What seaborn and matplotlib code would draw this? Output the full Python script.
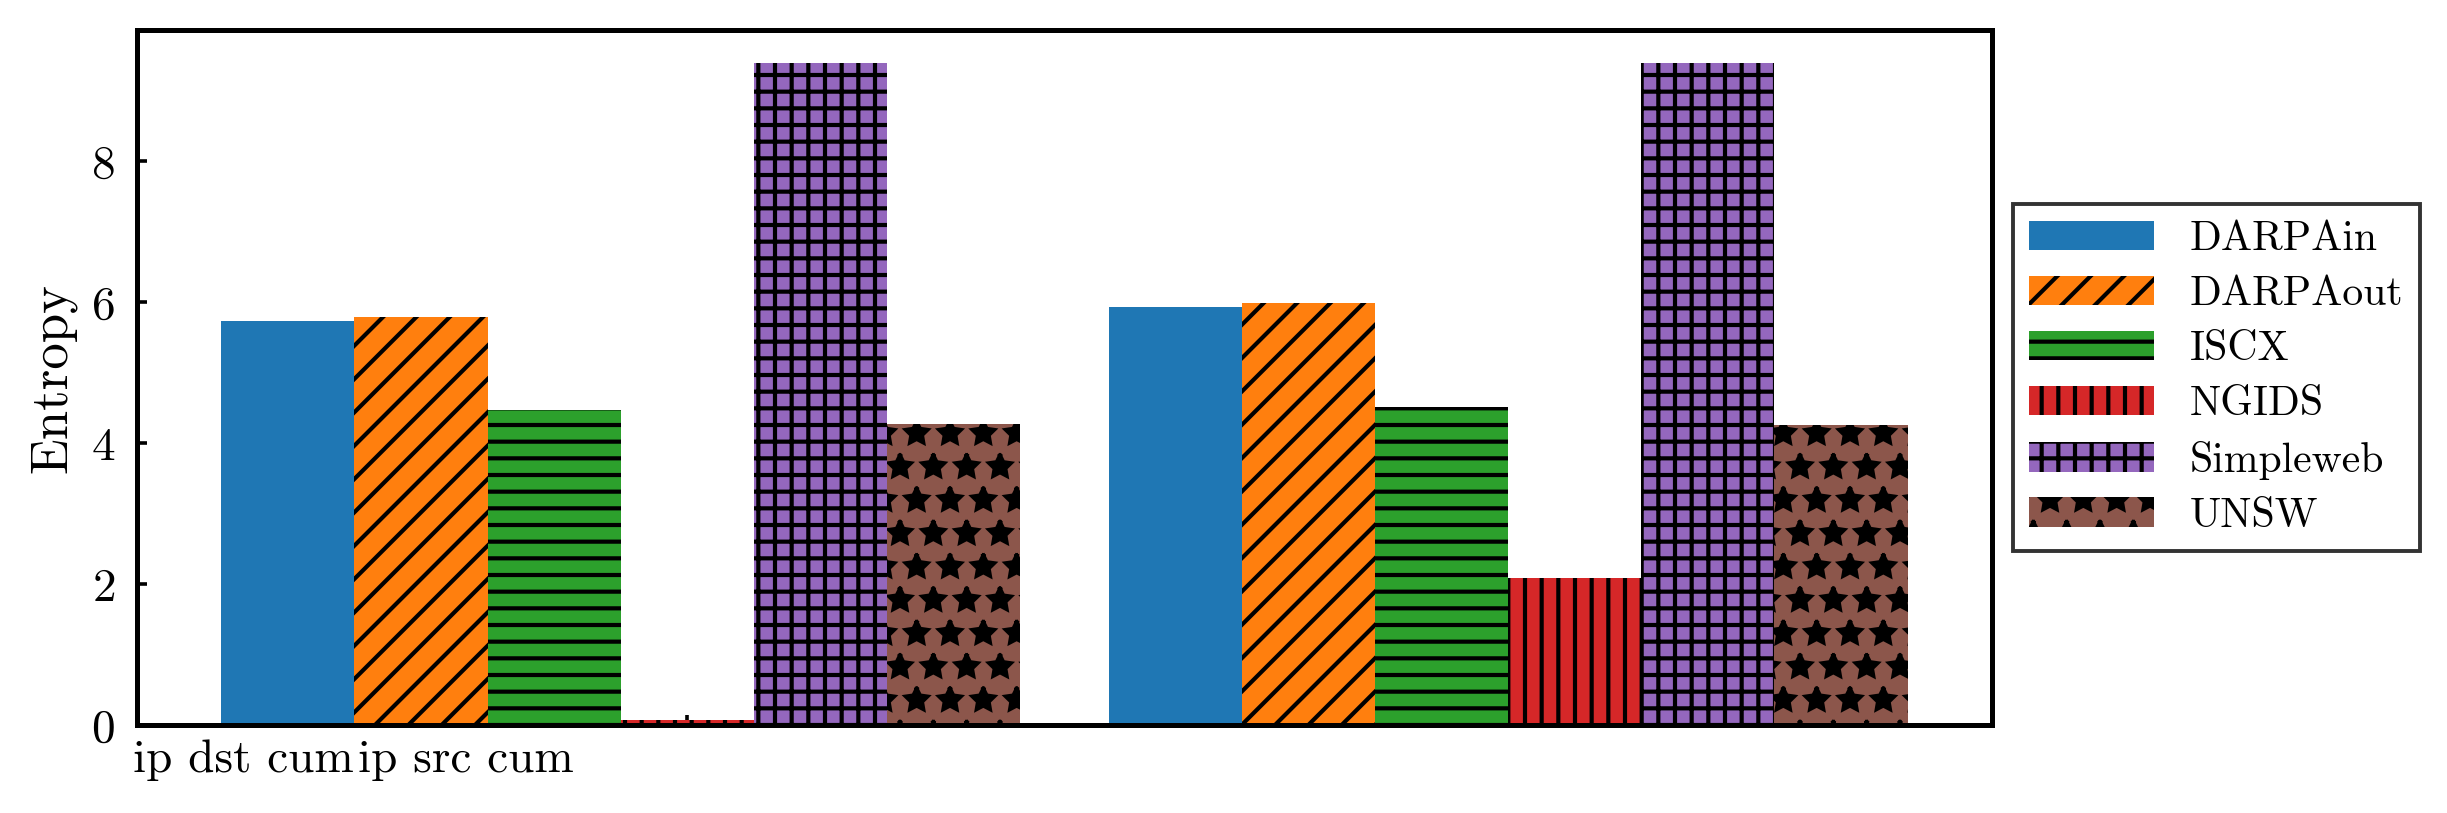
import numpy as np
import pandas as pd
import matplotlib
matplotlib.use("Agg")
import matplotlib.pyplot as plt
import seaborn as sns

# entropy of the cumulated ip features per dataset
datasets = ["DARPAin", "DARPAout", "ISCX", "NGIDS", "Simpleweb", "UNSW"]
features = ["ip dst cum", "ip src cum"]
dst_entropy = [5.74, 5.79, 4.47, 0.07, 9.39, 4.27]
src_entropy = [5.93, 5.99, 4.51, 2.09, 9.39, 4.26]
hatches = ["", "//", "--", "||", "++", "*"]

df = pd.DataFrame({
    "feature": np.repeat(features, len(datasets)),
    "dataset": datasets * len(features),
    "entropy": dst_entropy + src_entropy,
})

sns.set_style("ticks")
plt.rcParams["font.family"] = ["cmr10", "DejaVu Serif"]
plt.rcParams["mathtext.fontset"] = "cm"
plt.rcParams["axes.formatter.use_mathtext"] = True
plt.rcParams["hatch.linewidth"] = 1.5
plt.rcParams["axes.linewidth"] = 1.8
plt.rcParams["axes.edgecolor"] = "black"
plt.rcParams["text.color"] = "black"
plt.rcParams["axes.labelcolor"] = "black"
plt.rcParams["xtick.color"] = "black"
plt.rcParams["ytick.color"] = "black"
plt.rcParams["xtick.direction"] = "in"
plt.rcParams["ytick.direction"] = "in"
plt.rcParams["xtick.major.width"] = 1.3
plt.rcParams["ytick.major.width"] = 1.3

fig, ax = plt.subplots(figsize=(12.235, 4.065), dpi=200)
fig.subplots_adjust(left=0.056, right=0.814, top=0.963, bottom=0.108)

sns.barplot(data=df, x="feature", y="entropy", hue="dataset",
            hue_order=datasets, palette=sns.color_palette("tab10", 6),
            saturation=1, width=0.9, linewidth=0, legend=False, ax=ax)

for cont, h in zip(ax.containers, hatches):
    for p in cont.patches:
        p.set_hatch(h)
        p.set_edgecolor("black")
        p.set_linewidth(0)

# ticks as the original autoscaled axis placed them
ax.set_xlim(-0.545, 1.545)
ticks = np.arange(8) * 0.25 - 0.425
ax.set_xticks(ticks)
ax.set_xticklabels(features + [""] * (len(ticks) - len(features)))
ax.set_xlabel("")
ax.set_ylabel("Entropy", fontsize=19, labelpad=5)
ax.set_yticks([0, 2, 4, 6, 8])
ax.tick_params(axis="x", labelsize=17, pad=5)
ax.tick_params(axis="y", labelsize=17, pad=8)

leg = ax.legend(ax.containers, datasets, loc="center left",
                bbox_to_anchor=(1.0, 0.5), fontsize=15, fancybox=False,
                framealpha=1, edgecolor="0.2", handlelength=3.0,
                handleheight=0.7, handletextpad=0.85, labelspacing=0.42)
leg.get_frame().set_linewidth(1.4)

fig.savefig("out.png", dpi=200)
